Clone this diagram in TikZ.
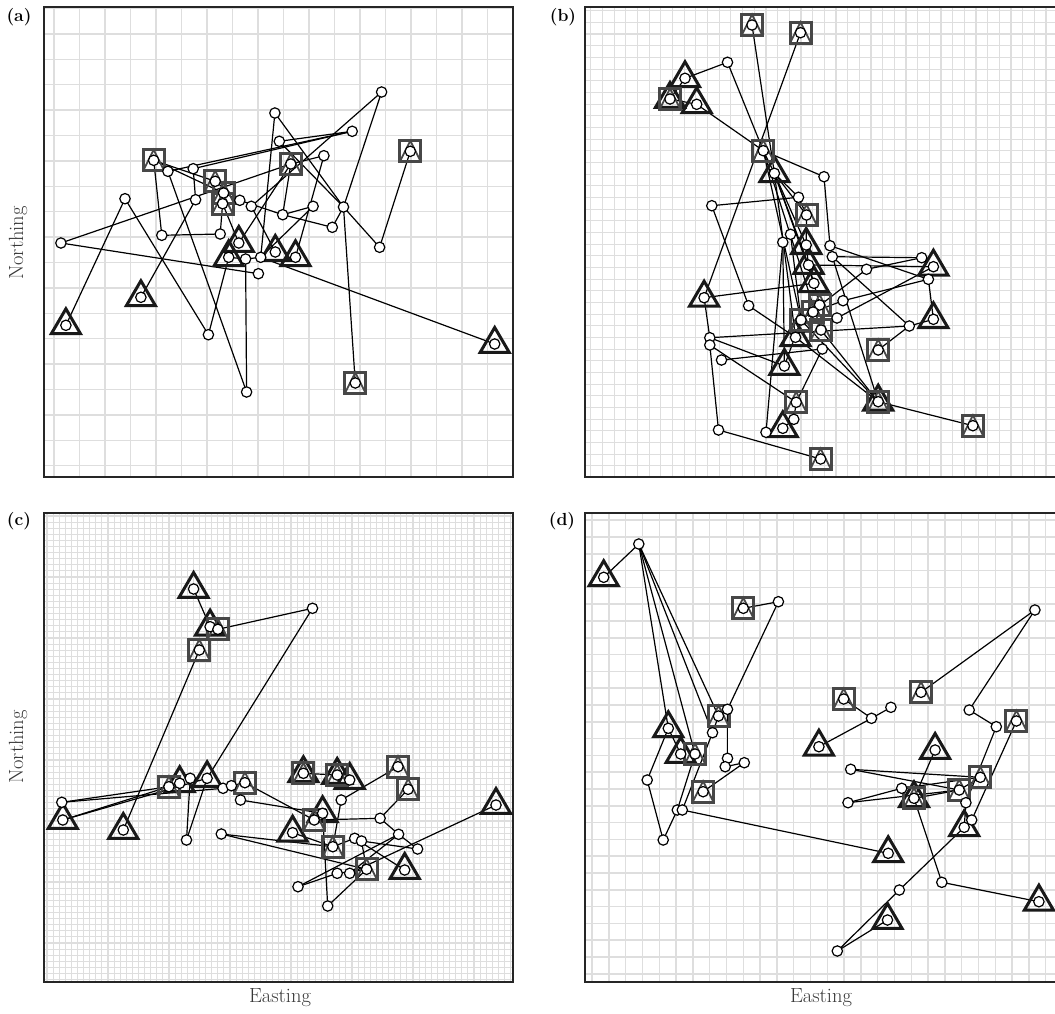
\documentclass[tikz,border=0pt]{standalone}
\usepackage{fontspec}
\usepackage{tikz}
\begin{document}
\begin{tikzpicture}[x=1pt,y=-1pt]
\tikzset{
 grd/.style={draw=black!13, line width=1.5pt},
 grdf/.style={draw=black!13, line width=1.1pt},
 frm/.style={draw=black!85, line width=1.2pt},
 trk/.style={draw=black, line width=1.2pt},
 tristyle/.style={draw=black!90, line width=3pt, line join=miter},
 sqstyle/.style={draw=black!72, line width=3pt},
 sqtri/.style={draw=black!72, line width=1.8pt},
 ptstyle/.style={draw=black, fill=white, line width=1.2pt},
 plab/.style={font=\bfseries\fontsize{17.5}{17.5}\selectfont},
 alab/.style={font=\fontsize{20.5}{20.5}\selectfont, text=black!78}
}
\newcommand{\mtri}[1]{\draw[tristyle,shift={(#1)}] (0,-16.5) -- (14.5,8.3) -- (-14.5,8.3) -- cycle;}
\newcommand{\msq}[1]{\draw[sqstyle,shift={(#1)}] (-10.5,-10.5) rectangle (10.5,10.5); \draw[sqtri,shift={(#1)}] (-10.5,10.5) -- (0,-10.5) -- (10.5,10.5);}
\newcommand{\mpt}[1]{\draw[ptstyle] (#1) circle[radius=5.2pt];}
\useasboundingbox (0,0) rectangle (1055,1013);
\fill[white] (0,0) rectangle (1055,1013);
% ---------- grids ----------
\begin{scope}
\clip (44,7) rectangle (513,477);
\foreach \i in {0,...,17} {\draw[grd] ({54+25.5*\i},7) -- ++(0,470);}
\foreach \j in {0,...,18} {\draw[grd] (44,{8.5+25.4*\j}) -- ++(470,0);}
\end{scope}
\begin{scope}
\clip (585,7) rectangle (1056,477);
\foreach \i in {-30,...,9} {\draw[grdf] ({941+11.67*\i},7) -- ++(0,470);}
\foreach \j in {0,...,39} {\draw[grdf] (585,{10.7+11.67*\j}) -- ++(472,0);}
\end{scope}
\begin{scope}
\clip (44,513) rectangle (513,982);
\foreach \i in {0,...,77} {\draw[grdf] ({47+6.1*\i},513) -- ++(0,470);}
\foreach \j in {0,...,77} {\draw[grdf] (44,{516+6.1*\j}) -- ++(470,0);}
\end{scope}
\begin{scope}
\clip (585,513) rectangle (1056,982);
\foreach \i in {-2,...,26} {\draw[grd] ({625.7+16.8*\i},513) -- ++(0,470);}
\foreach \j in {-12,...,17} {\draw[grd] (585,{705+16.8*\j}) -- ++(472,0);}
\end{scope}
\draw[frm] (44,7) rectangle (513,477);
\draw[frm] (585,7) rectangle (1057,477);
\draw[frm] (44,513) rectangle (513,982);
\draw[frm] (585,513) rectangle (1057,982);
% ---------- labels ----------
\node[plab] (la) at (19,17) {(a)};
\node[plab] (lb) at (563,17) {(b)};
\node[plab] (lc) at (19,521) {(c)};
\node[plab] (ld) at (562,521) {(d)};
\node[alab,rotate=90] (na) at (18,243) {Northing};
\node[alab,rotate=90] (nc) at (18,747) {Northing};
\node[alab] (ec) at (280,998) {Easting};
\node[alab] (ed) at (821,998) {Easting};
% ---------- panel (a) points ----------
\coordinate (a1) at (381.6,92);
\coordinate (a2) at (274.9,113);
\coordinate (a3) at (352.2,131.3);
\coordinate (a4) at (279.3,141.3);
\coordinate (a5) at (323.9,155.7);
\coordinate (a6) at (153.7,160.3);
\coordinate (a7) at (193.2,168.7);
\coordinate (a8) at (167.9,171.3);
\coordinate (a9) at (215.2,181.3);
\coordinate (a10) at (290.8,164);
\coordinate (a11) at (410.3,151.3);
\coordinate (a12) at (223.6,193);
\coordinate (a13) at (222.6,203.7);
\coordinate (a14) at (125,198.7);
\coordinate (a15) at (195.6,199.7);
\coordinate (a16) at (239.8,200.3);
\coordinate (a17) at (251.3,206.3);
\coordinate (a18) at (313.1,206.3);
\coordinate (a19) at (343.5,207);
\coordinate (a20) at (282.7,214.7);
\coordinate (a21) at (332.3,227.3);
\coordinate (a22) at (60.9,243);
\coordinate (a23) at (161.8,235.3);
\coordinate (a24) at (220.2,234);
\coordinate (a25) at (238.8,243);
\coordinate (a26) at (379.6,247.3);
\coordinate (a27) at (228.7,257.3);
\coordinate (a28) at (245.6,259);
\coordinate (a29) at (260.7,257.3);
\coordinate (a30) at (275.3,252);
\coordinate (a31) at (295.5,257.3);
\coordinate (a32) at (258.4,273.7);
\coordinate (a33) at (140.9,297.3);
\coordinate (a34) at (65.9,325.3);
\coordinate (a35) at (208.4,334.7);
\coordinate (a36) at (494.7,344);
\coordinate (a37) at (355.3,383);
\coordinate (a38) at (246.6,392);
\foreach \u/\v in {a34/a14,a14/a35,a35/a27,a33/a15,a15/a7,a7/a3,a8/a3,a6/a23,a23/a24,a8/a38,a38/a28,
 a2/a29,a2/a19,a19/a26,a26/a11,a19/a37,a4/a19,a4/a3,a5/a31,a1/a17,a1/a19,a10/a20,a10/a25,a20/a18,
 a18/a29,a6/a9,a6/a12,a9/a16,a12/a16,a16/a20,a20/a21,a21/a19,a22/a10,a22/a32,a29/a36,a27/a28,
 a28/a29,a24/a13,a30/a17,a13/a25,a5/a10}
 {\draw[trk] (\u) -- (\v);}
\foreach \p in {a25,a27,a30,a31,a33,a34,a36} {\mtri{\p}}
\foreach \p in {a6,a9,a10,a11,a12,a13,a37} {\msq{\p}}
\foreach \p in {a1,a2,a3,a4,a5,a6,a7,a8,a9,a10,a11,a12,a13,a14,a15,a16,a17,a18,a19,a20,a21,a22,a23,a24,a25,a26,a27,a28,a29,a30,a31,a32,a33,a34,a35,a36,a37,a38} {\mpt{\p}}
% ---------- panel (b) points ----------
\coordinate (b1) at (752,25);
\coordinate (b2) at (800.5,32.7);
\coordinate (b3) at (727.5,62.3);
\coordinate (b4) at (685,78.3);
\coordinate (b5) at (670,99);
\coordinate (b6) at (696.7,104.3);
\coordinate (b7) at (763.3,150.7);
\coordinate (b8) at (774.4,173.3);
\coordinate (b9) at (824,176.7);
\coordinate (b10) at (798.5,197.3);
\coordinate (b11) at (711.8,205.7);
\coordinate (b12) at (806.5,215);
\coordinate (b13) at (790.5,234.3);
\coordinate (b14) at (782.8,242.3);
\coordinate (b15) at (806.2,245);
\coordinate (b16) at (830,245.7);
\coordinate (b17) at (832.3,256.7);
\coordinate (b18) at (808.5,265);
\coordinate (b19) at (921.7,257.7);
\coordinate (b20) at (933.4,266.7);
\coordinate (b21) at (866.5,269.3);
\coordinate (b22) at (928.4,279.3);
\coordinate (b23) at (813.9,283.3);
\coordinate (b24) at (704.1,297.7);
\coordinate (b25) at (748.6,305.7);
\coordinate (b26) at (843,300.7);
\coordinate (b27) at (819.6,305);
\coordinate (b28) at (801,320);
\coordinate (b28b) at (821,330);
\coordinate (b28c) at (813,312);
\coordinate (b29) at (933.4,319.3);
\coordinate (b30) at (909.3,326);
\coordinate (b31) at (795.5,337.3);
\coordinate (b32) at (709.8,337.7);
\coordinate (b32b) at (709.8,345);
\coordinate (b33) at (822.3,349);
\coordinate (b34) at (878.2,350);
\coordinate (b35) at (721.5,360);
\coordinate (b36) at (784.4,366);
\coordinate (b37) at (796.2,402.3);
\coordinate (b38) at (878.2,401.7);
\coordinate (b39) at (793.8,419.3);
\coordinate (b40) at (782.8,428.3);
\coordinate (b41) at (766,432.3);
\coordinate (b42) at (718.5,430);
\coordinate (b43) at (972.9,425.7);
\coordinate (b44) at (820.6,459);
\coordinate (b45) at (837,318);
\foreach \u/\v in {b4/b3,b3/b7,b1/b8,b2/b24,b6/b7,b5/b4,b5/b6,b7/b9,b9/b16,b11/b10,b11/b25,b25/b31,
 b24/b23,b24/b32,b32/b30,b32/b36,b32b/b37,b32b/b42,b42/b44,b35/b33,b14/b41,b37/b33,b38/b43,b38/b17,
 b38/b28b,b31/b38,b28/b38,b34/b30,b30/b17,b21/b28,b21/b19,b22/b29,b26/b22,b17/b19,b16/b22,b39/b37,
 b40/b39,b36/b28,b7/b8,b8/b12,b8/b15,b8/b18,b8/b23,b12/b15,b15/b18,b18/b23,b23/b27,b27/b28,b8/b10,
 b7/b28,b8/b31,b7/b28b,b13/b14,b10/b12,b18/b20,b29/b30,b45/b20,b26/b28c,b13/b28,b14/b36}
 {\draw[trk] (\u) -- (\v);}
\foreach \p in {b4,b5,b6,b8,b15,b18,b20,b23,b24,b29,b31,b36,b38,b40} {\mtri{\p}}
\foreach \p in {b1,b2,b5,b7,b12,b27,b28,b28b,b28c,b34,b37,b38,b43,b44} {\msq{\p}}
\foreach \p in {b1,b2,b3,b4,b5,b6,b7,b8,b9,b10,b11,b12,b13,b14,b15,b16,b17,b18,b19,b20,b21,b22,b23,b24,b25,b26,b27,b28,b28b,b28c,b29,b30,b31,b32,b32b,b33,b34,b35,b36,b37,b38,b39,b40,b41,b42,b43,b44,b45} {\mpt{\p}}
% ---------- panel (c) points ----------
\coordinate (c1) at (193.6,589);
\coordinate (c2) at (312.5,608.3);
\coordinate (c3) at (210.1,626.7);
\coordinate (c4) at (217.9,629.3);
\coordinate (c5) at (199.3,650);
\coordinate (c6) at (168.9,786.7);
\coordinate (c6t) at (179.7,783.3);
\coordinate (c7) at (190.2,778.3);
\coordinate (c8) at (207.1,778.3);
\coordinate (c9) at (223,788.3);
\coordinate (c10) at (231.4,785.7);
\coordinate (c11) at (244.9,782.7);
\coordinate (c12) at (240.5,800);
\coordinate (c13) at (61.8,802.3);
\coordinate (c14) at (62.8,820);
\coordinate (c15) at (123.3,830);
\coordinate (c16) at (186.5,840);
\coordinate (c17) at (221.3,834);
\coordinate (c18) at (303.4,773.3);
\coordinate (c19) at (337.2,775);
\coordinate (c19t) at (349.7,780);
\coordinate (c20) at (398,766.7);
\coordinate (c21) at (408.1,789.3);
\coordinate (c22) at (496,805);
\coordinate (c23) at (341.2,800);
\coordinate (c24) at (322.6,813.3);
\coordinate (c24s) at (314.2,820);
\coordinate (c25) at (292.6,832.7);
\coordinate (c26) at (380.1,818.3);
\coordinate (c27) at (398.6,834.3);
\coordinate (c28) at (354.7,838.3);
\coordinate (c28b) at (361.5,841);
\coordinate (c29) at (417.6,849);
\coordinate (c30) at (332.8,846.7);
\coordinate (c31) at (366.6,869.3);
\coordinate (c32) at (404.7,870);
\coordinate (c33) at (337.2,873.3);
\coordinate (c33b) at (349.7,873.3);
\coordinate (c34) at (298,886.7);
\coordinate (c35) at (327.7,906);
\foreach \u/\v in {c1/c3,c3/c4,c4/c2,c2/c8,c5/c15,c13/c6,c13/c9,c14/c6t,c14/c8,c7/c16,c16/c8,c11/c24s,
 c12/c24,c10/c11,c9/c10,c17/c30,c17/c31,c24s/c26,c26/c21,c26/c27,c27/c29,c23/c20,c23/c30,c22/c33b,
 c34/c33,c34/c27,c35/c31,c35/c24,c25/c30,c28/c30,c28b/c31,c29/c28b,c32/c28,c33/c31,c18/c19,c19/c19t,
 c27/c33b}
 {\draw[trk] (\u) -- (\v);}
\foreach \p in {c1,c3,c6t,c8,c14,c15,c18,c19,c19t,c22,c24,c25,c32} {\mtri{\p}}
\foreach \p in {c4,c5,c6,c11,c18,c19,c20,c21,c24s,c30,c31} {\msq{\p}}
\foreach \p in {c1,c2,c3,c4,c5,c6,c6t,c7,c8,c9,c10,c11,c12,c13,c14,c15,c16,c17,c18,c19,c19t,c20,c21,c22,c23,c24,c24s,c25,c26,c27,c28,c28b,c29,c30,c31,c32,c33,c33b,c34,c35} {\mpt{\p}}
% ---------- panel (d) points ----------
\coordinate (d1) at (603.7,577.3);
\coordinate (d2) at (638.8,544);
\coordinate (d3) at (743.3,608.3);
\coordinate (d4) at (778.4,601.7);
\coordinate (d5) at (1034.9,610);
\coordinate (d6) at (843.7,699);
\coordinate (d7) at (871.5,718.3);
\coordinate (d8) at (890.9,707.3);
\coordinate (d9) at (921,692.3);
\coordinate (d10) at (969.2,710);
\coordinate (d11) at (996.3,726.7);
\coordinate (d12) at (1016.4,721);
\coordinate (d13) at (718.5,716);
\coordinate (d13c) at (727.5,709.3);
\coordinate (d14) at (668.3,728.3);
\coordinate (d15) at (712.5,732.7);
\coordinate (d16) at (680.7,754);
\coordinate (d17) at (695,754);
\coordinate (d18) at (818.9,746.7);
\coordinate (d19) at (935.1,750);
\coordinate (d20) at (727.5,758.3);
\coordinate (d20b) at (725.2,766.7);
\coordinate (d21) at (744.3,762.7);
\coordinate (d22) at (850.7,769.3);
\coordinate (d23) at (980.3,777.3);
\coordinate (d24) at (647.2,780);
\coordinate (d25) at (703.1,791.7);
\coordinate (d26) at (959.2,790);
\coordinate (d27) at (914,798.3);
\coordinate (d27c) at (901.7,788.3);
\coordinate (d28) at (848,802.7);
\coordinate (d29) at (677.3,810);
\coordinate (d29b) at (682.3,810);
\coordinate (d30) at (965.9,802.7);
\coordinate (d30b) at (971.7,820);
\coordinate (d31) at (964.2,827.3);
\coordinate (d32) at (663.2,840);
\coordinate (d33) at (888.2,853.3);
\coordinate (d34) at (941.8,882.3);
\coordinate (d35) at (899.3,890);
\coordinate (d36) at (1038.9,901.7);
\coordinate (d37) at (887.5,920);
\coordinate (d38) at (837.3,951);
\foreach \u/\v in {d1/d2,d2/d14,d2/d13,d2/d15,d2/d17,d3/d4,d4/d13c,d13c/d20,d15/d29b,d17/d29,d14/d24,
 d24/d32,d32/d29,d29b/d33,d21/d25,d20b/d21,d16/d14,d13/d15,d6/d7,d7/d8,d7/d18,d9/d5,d5/d10,d10/d11,
 d11/d30,d12/d30b,d22/d26,d22/d23,d28/d27c,d28/d26,d19/d27,d27/d34,d34/d36,d31/d35,d35/d38,d38/d37,
 d27/d26,d27c/d23,d26/d23,d30/d31}
 {\draw[trk] (\u) -- (\v);}
\foreach \p in {d1,d14,d16,d18,d19,d27,d31,d33,d36,d37} {\mtri{\p}}
\foreach \p in {d3,d6,d9,d12,d13,d17,d23,d25,d26,d27} {\msq{\p}}
\foreach \p in {d1,d2,d3,d4,d5,d6,d7,d8,d9,d10,d11,d12,d13,d13c,d14,d15,d16,d17,d18,d19,d20,d20b,d21,d22,d23,d24,d25,d26,d27,d27c,d28,d29,d29b,d30,d30b,d31,d32,d33,d34,d35,d36,d37,d38} {\mpt{\p}}
\end{tikzpicture}
\end{document}
